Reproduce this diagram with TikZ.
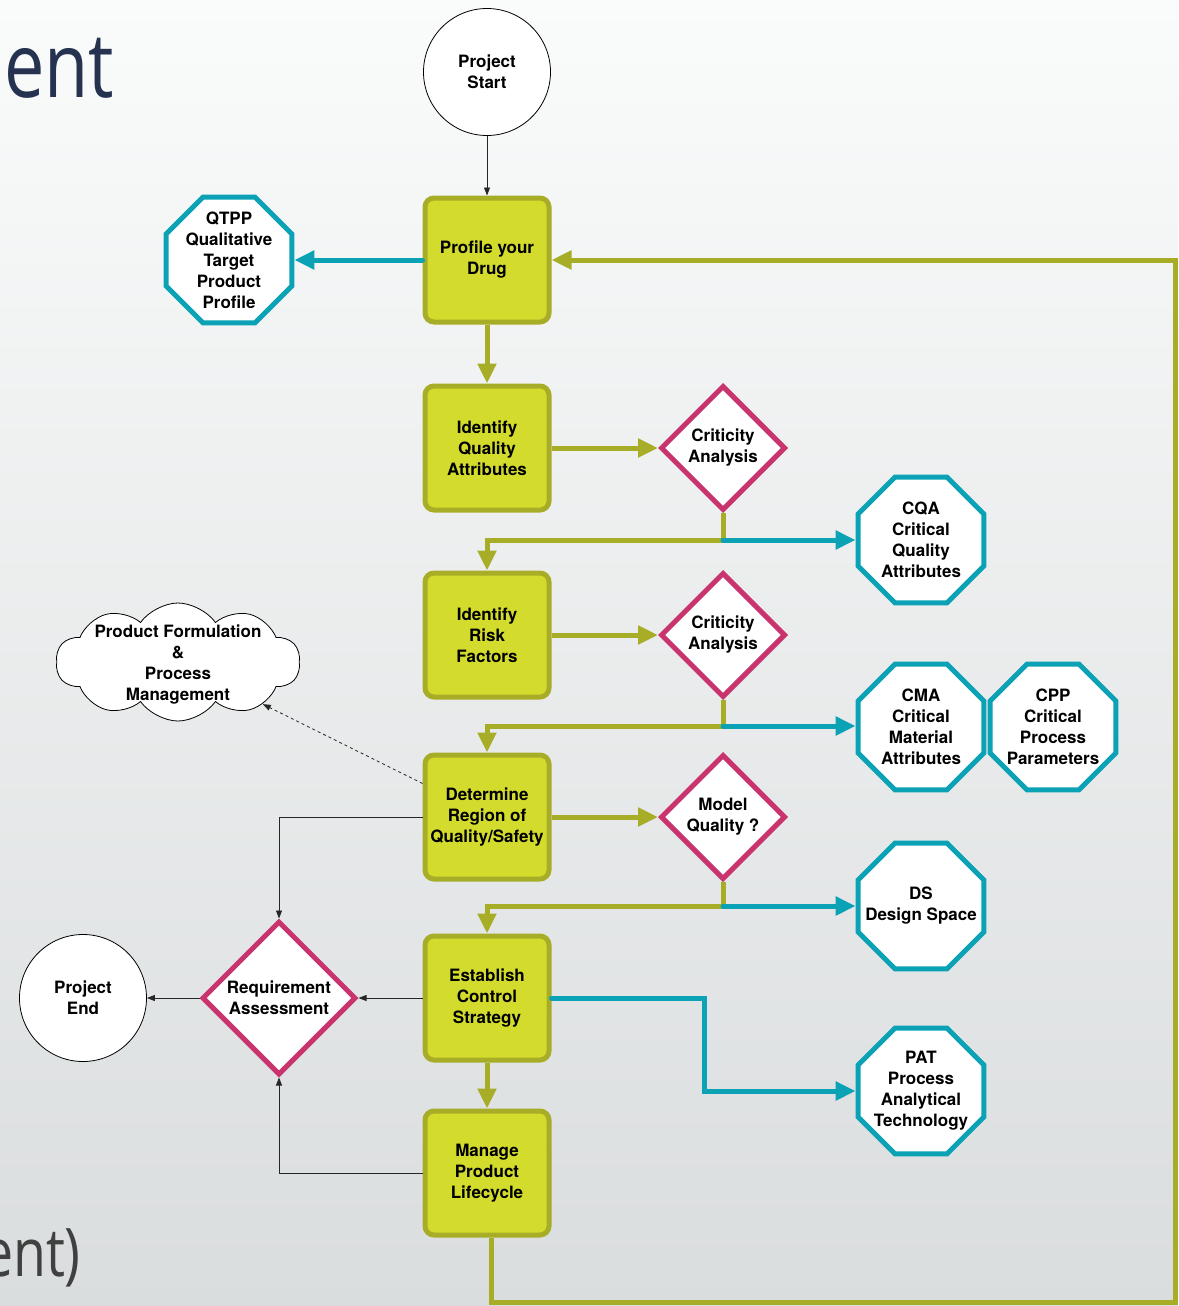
\documentclass[tikz,border=0pt]{standalone}
\usepackage{fontspec}
\newfontfamily\hv{TeX Gyre Heros}
\newfontfamily\os[FakeStretch=0.8]{Open Sans}
\usetikzlibrary{shapes.geometric,shapes.symbols,arrows.meta,calc}
\definecolor{boxfill}{HTML}{D3DB2D}
\definecolor{olive}{HTML}{A8AD27}
\definecolor{teal2}{HTML}{0BA2B6}
\definecolor{mag}{HTML}{C9346E}
\definecolor{navy}{HTML}{253350}
\definecolor{bgtop}{HTML}{FAFBFB}
\definecolor{bgbot}{HTML}{DADDDE}
\begin{document}
\begin{tikzpicture}[x=1pt,y=-1pt,
 lbl/.style={font=\hv\bfseries\fontsize{17}{21}\selectfont, align=center, inner sep=0pt},
 stepbox/.style={lbl, rectangle, rounded corners=9pt, draw=olive, line width=5pt, fill=boxfill, minimum width=124pt, minimum height=124pt},
 octa/.style={regular polygon, regular polygon sides=8, draw=teal2, line width=5pt, fill=white, minimum size=136pt, inner sep=0pt},
 dia/.style={lbl, diamond, draw=mag, line width=5pt, fill=white, minimum width=125pt, minimum height=125pt},
 term/.style={lbl, circle, draw=black, line width=0.8pt, fill=white, minimum size=127pt},
 oarr/.style={draw=olive, line width=5pt, -{Triangle[length=20pt,width=18pt]}},
 tarr/.style={draw=teal2, line width=5pt, line cap=round, -{Triangle[length=20pt,width=18pt]}},
 karr/.style={draw=black!85, line width=0.8pt, -{Triangle[length=8pt,width=6pt]}},
]
\useasboundingbox (0,0) rectangle (1178,1306);
\shade[top color=bgtop, bottom color=bgbot] (0,0) rectangle (1178,1306);

\node[anchor=base west, inner sep=0pt, text=navy, font=\os\fontsize{90}{90}\selectfont] (t1) at (4,97) {ent};
\node[anchor=base east, inner sep=0pt, text=black!75, font=\os\fontsize{67}{67}\selectfont] (t2) at (81,1276) {ent)};

% main steps
\node[term] (start) at (487,72) {Project\\Start};
\node[stepbox] (pyd) at (487,260) {Profile your\\Drug};
\node[stepbox] (iqa) at (487,448) {Identify\\Quality\\Attributes};
\node[stepbox] (irf) at (487,635) {Identify\\Risk\\Factors};
\node[stepbox] (det) at (487,817) {Determine\\Region of\\Quality/Safety};
\node[stepbox] (ecs) at (487,998) {Establish\\Control\\Strategy};
\node[stepbox] (mpl) at (487,1173) {Manage\\Product\\Lifecycle};

% decisions
\node[dia] (c1) at (723,448) {Criticity\\Analysis};
\node[dia] (c2) at (723,635) {Criticity\\Analysis};
\node[dia] (mq) at (723,817) {Model\\Quality ?};
\node[dia, minimum width=154pt, minimum height=154pt] (req) at (279,998) {Requirement\\Assessment};
\node[term] (pend) at (83,998) {Project\\End};

% outputs
\node[octa, label={[lbl]center:QTPP\\Qualitative\\Target\\Product\\Profile}] (qtpp) at (229,260) {};
\node[octa, label={[lbl]center:CQA\\Critical\\Quality\\Attributes}] (cqa) at (921,540) {};
\node[octa, label={[lbl]center:CMA\\Critical\\Material\\Attributes}] (cma) at (921,727) {};
\node[octa, label={[lbl]center:CPP\\Critical\\Process\\Parameters}] (cpp) at (1053,727) {};
\node[octa, label={[lbl]center:DS\\Design Space}] (ds) at (921,906) {};
\node[octa, label={[lbl]center:PAT\\Process\\Analytical\\Technology}] (pat) at (921,1091) {};

% cloud
\node[cloud, cloud puffs=10, cloud puff arc=110, draw=black, line width=0.8pt, fill=white, minimum width=244pt, minimum height=118pt, inner sep=0pt] (cloud) at (178,662) {};
\node[lbl] (cloudtxt) at (178,665) {Product Formulation\\\&\\Process\\Management};

% junctions
\coordinate (j1) at (723,540);
\coordinate (j2) at (723,726);
\coordinate (j3) at (723,906);
\coordinate (pk) at (704,998);
\coordinate (lb) at (1175,1302);

% connectors
\draw[karr] (start) -- (pyd);
\draw[tarr] (pyd.west) -- (qtpp.east);
\draw[oarr] (pyd) -- (iqa);
\draw[oarr] (iqa) -- (c1);
\draw[oarr] (c1.south) -- (j1) -| (irf.north);
\draw[tarr] (j1) -- (cqa.west);
\draw[oarr] (irf) -- (c2);
\draw[oarr] (c2.south) -- (j2) -| (det.north);
\draw[tarr] (j2) -- (j2 -| cma.west);
\draw[oarr] (det) -- (mq);
\draw[oarr] (mq.south) -- (j3) -| (ecs.north);
\draw[tarr] (j3) -- (ds.west);
\draw[tarr] (ecs.east) -- (pk) |- (pat.west);
\draw[oarr] (ecs) -- (mpl);
\draw[oarr] ([xshift=4pt]mpl.south) |- (lb) |- (pyd.east);

\draw[karr, dashed] ($(det.north west)+(0,31)$) -- (cloud);
\draw[karr] (det.west) -| (req.north);
\draw[karr] (ecs.west) -- (req.east);
\draw[karr] (mpl.west) -| (req.south);
\draw[karr] (req.west) -- (pend.east);
\end{tikzpicture}
\end{document}
